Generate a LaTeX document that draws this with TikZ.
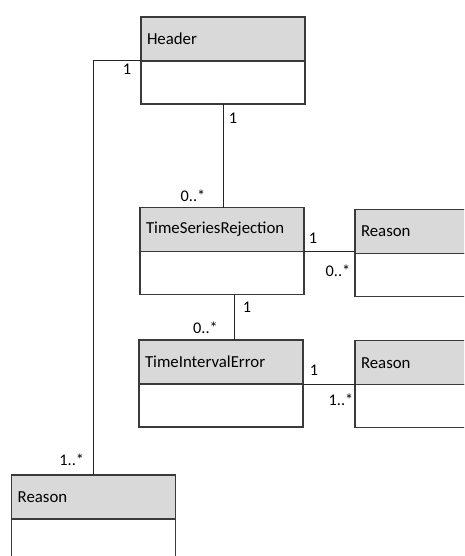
\documentclass[tikz,border=0pt]{standalone}
\usepackage{fontspec}
\setmainfont{Carlito}
\usetikzlibrary{positioning}
\definecolor{titlegray}{HTML}{D9D9D9}
\definecolor{boxline}{HTML}{3A3A3A}

\begin{document}
\begin{tikzpicture}[x=0.75pt,y=-0.75pt,
		classtitle/.style={draw=boxline,fill=titlegray,line width=0.85pt,anchor=north west,
			text width=114pt,inner xsep=4.5pt,minimum height=33pt,align=left,outer sep=0pt,
			font=\fontsize{12.6}{14}\selectfont},
		classbody/.style={draw=boxline,fill=white,line width=0.85pt,minimum width=123pt,
			minimum height=32.25pt,outer sep=0pt},
		assoc/.style={draw=black!85,line width=0.75pt},
		mult/.style={inner sep=0pt,font=\fontsize{12.2}{14}\selectfont}]
	\useasboundingbox (0,0) rectangle (464,556);
	\clip (0,0) rectangle (464,556);
	% classes
	\node[classtitle] (header) at (141,17) {Header};
	\node[classbody] (header_b) [below=0pt of header] {};
	\node[classtitle] (tsr) at (140,207.5) {TimeSeriesRejection};
	\node[classbody] (tsr_b) [below=0pt of tsr] {};
	\node[classtitle] (reason_a) at (355,209.5) {Reason};
	\node[classbody] (reason_a_b) [below=0pt of reason_a] {};
	\node[classtitle] (tie) at (139,340) {TimeIntervalError};
	\node[classbody] (tie_b) [below=0pt of tie] {};
	\node[classtitle] (reason_b) at (355,340.7) {Reason};
	\node[classbody] (reason_b_b) [below=0pt of reason_b] {};
	\node[classtitle] (reason_c) at (11.7,475) {Reason};
	\node[classbody] (reason_c_b) [below=0pt of reason_c] {};
	% associations
	\path[assoc]
		(header.south west) -| (reason_c.north)
		(header_b.south) -- (header_b.south |- tsr.north)
		(tsr.south east) -- (tsr.south east -| reason_a.west)
		([shift={(12,0)}]tsr_b.south) -- ([shift={(12,0)}]tsr_b.south |- tie.north)
		(tie.south east) -- (tie.south east -| reason_b.west)
		;
	% multiplicities
	\node[mult] (m_1) at (127,69) {1};
	\node[mult] (m_2) at (233,118.5) {1};
	\node[mult] (m_3) at (193,196) {0..*};
	\node[mult] (m_4) at (313,238) {1};
	\node[mult] (m_5) at (338,270.5) {0..*};
	\node[mult] (m_6) at (247,307) {1};
	\node[mult] (m_7) at (205.5,328) {0..*};
	\node[mult] (m_8) at (314,370.5) {1};
	\node[mult] (m_9) at (341,400) {1..*};
	\node[mult] (m_10) at (71.7,460) {1..*};
\end{tikzpicture}
\end{document}
